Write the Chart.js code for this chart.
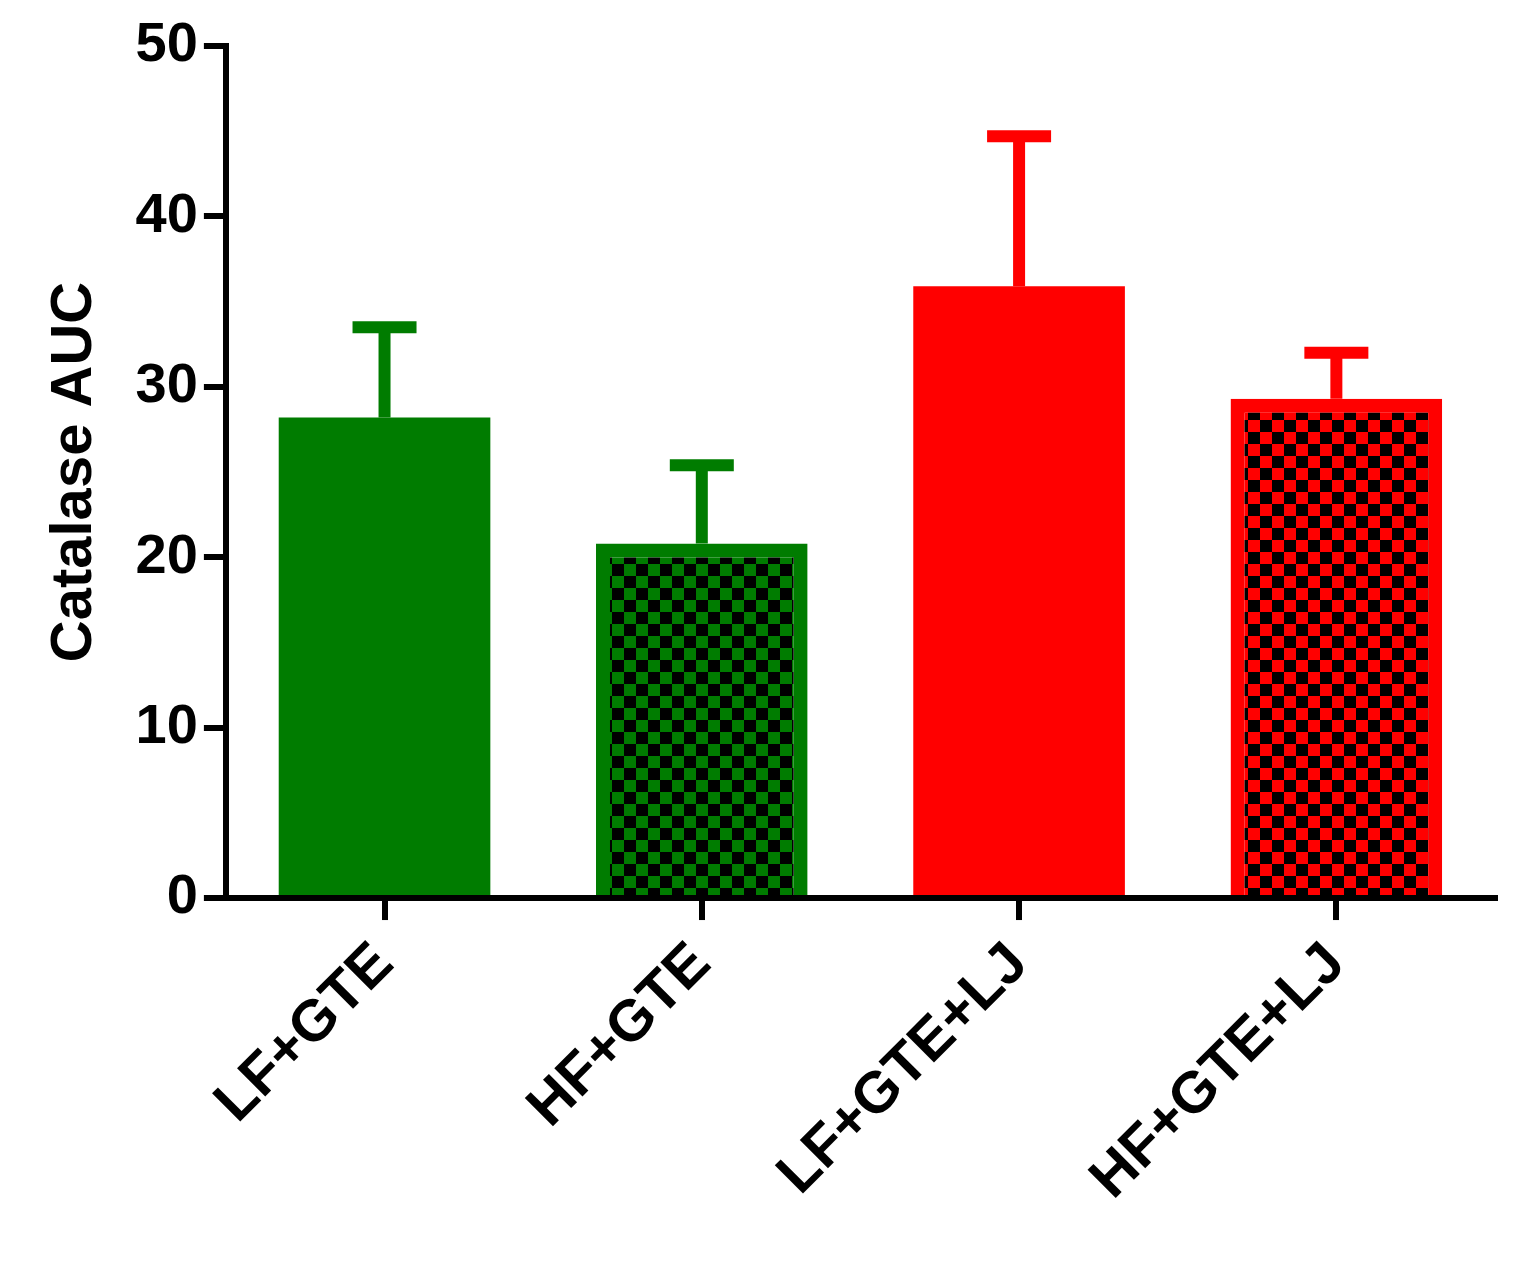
<!DOCTYPE html>
<html><head><meta charset="utf-8">
<script src="https://cdn.jsdelivr.net/npm/chart.js@4"></script>
<style>body{margin:0;background:#fff}</style>
</head><body>
<canvas id="c" width="1535" height="1284"></canvas>
<script>
const categories = ["LF+GTE","HF+GTE","LF+GTE+LJ","HF+GTE+LJ"];
const means = [28.2, 20.8, 35.9, 29.3];
const errors = [5.3, 4.6, 8.8, 2.7];
const colors = ["#007c00","#007c00","#ff0000","#ff0000"];
const patterned = [false, true, false, true];
const yTicks = [0,10,20,30,40,50];

function checker(col){
  const p=document.createElement('canvas');p.width=24;p.height=24;
  const g=p.getContext('2d');g.fillStyle=col;g.fillRect(0,0,24,24);
  g.fillStyle='#000';g.fillRect(0,0,12,12);g.fillRect(12,12,12,12);
  return document.getElementById('c').getContext('2d').createPattern(p,'repeat');
}
const bg = colors.map((c,i)=>patterned[i]?checker(c):c);
const bw = patterned.map(p=>p?14:0);

const errPlugin={id:'err',afterDatasetsDraw(ch){
  const ctx=ch.ctx, y=ch.scales.y, meta=ch.getDatasetMeta(0);
  ctx.save();
  meta.data.forEach((b,i)=>{
    const top=y.getPixelForValue(means[i]), e=y.getPixelForValue(means[i]+errors[i]);
    ctx.strokeStyle=colors[i];ctx.lineWidth=12;
    ctx.beginPath();ctx.moveTo(b.x,top);ctx.lineTo(b.x,e);ctx.stroke();
    ctx.beginPath();ctx.moveTo(b.x-32,e);ctx.lineTo(b.x+32,e);ctx.stroke();
  });
  ctx.restore();
}};

Chart.defaults.font.family="'Liberation Sans', Arial, sans-serif";
Chart.defaults.font.weight='bold';
Chart.defaults.color='#000';
new Chart(document.getElementById('c'),{
  type:'bar',
  data:{labels:categories,datasets:[{data:means,backgroundColor:bg,borderColor:colors,borderWidth:bw,categoryPercentage:1,barPercentage:0.667}]},
  options:{responsive:false,animation:false,
    layout:{padding:{top:46,right:40,left:36,bottom:60}},
    plugins:{legend:{display:false},tooltip:{enabled:false}},
    scales:{
      x:{grid:{display:true,offset:false,drawOnChartArea:false,tickLength:22,lineWidth:6,color:'#000'},
         border:{width:6,color:'#000'},
         ticks:{maxRotation:45,minRotation:45,font:{size:58,weight:'bold'},padding:10}},
      y:{min:0,max:50,afterBuildTicks(s){s.ticks=yTicks.map(v=>({value:v}));},
         grid:{display:true,drawOnChartArea:false,tickLength:22,lineWidth:6,color:'#000'},
         border:{width:6,color:'#000'},
         ticks:{font:{size:56,weight:'bold'},padding:6},
         title:{display:true,text:'Catalase AUC',font:{size:58,weight:'bold'},padding:{bottom:20}}}
    }},
  plugins:[errPlugin]
});
</script>
</body></html>
